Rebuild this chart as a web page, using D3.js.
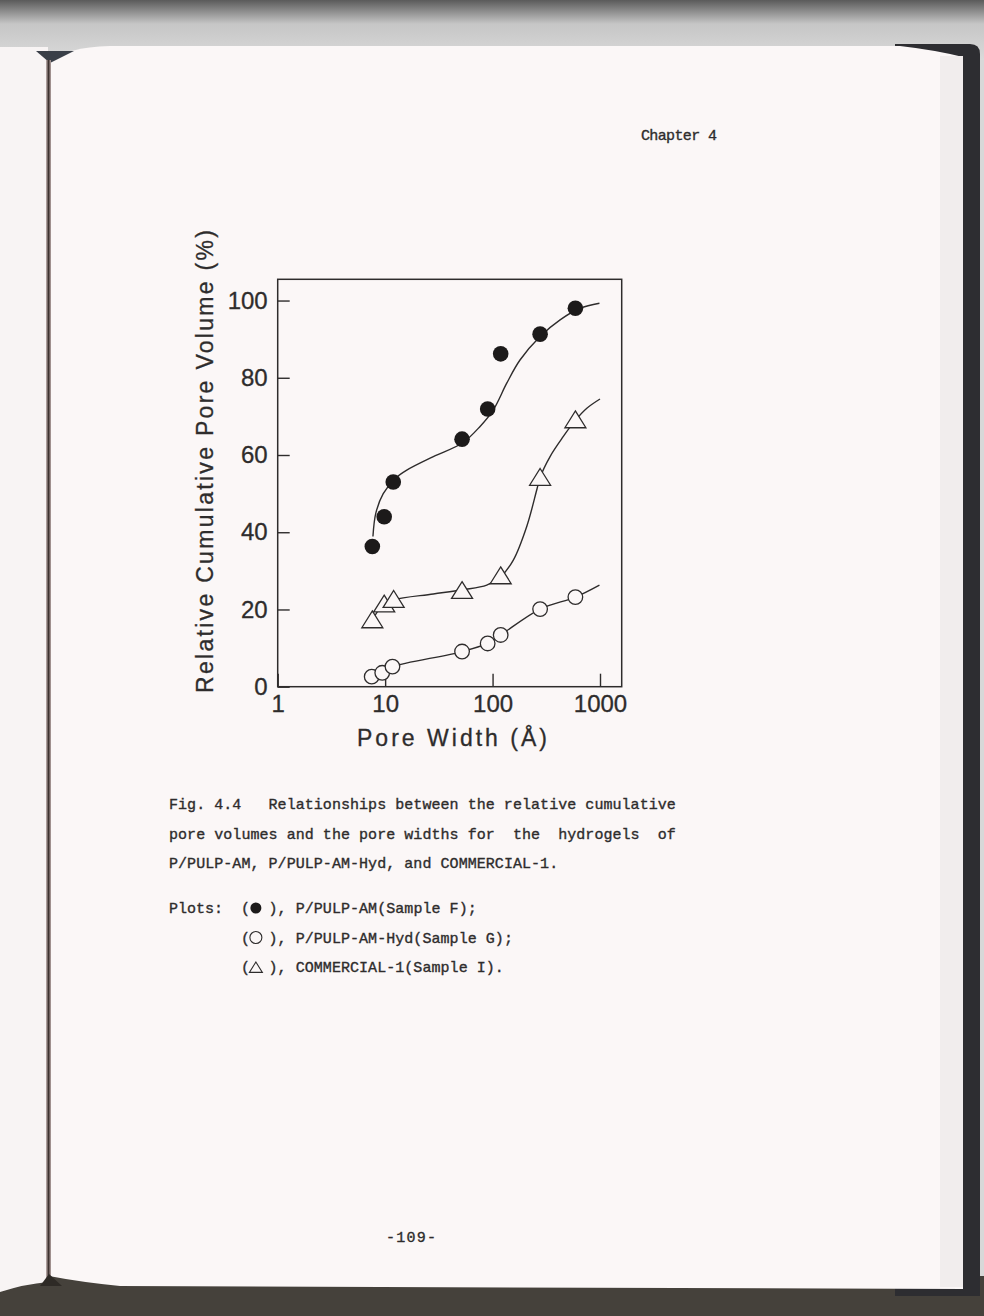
<!DOCTYPE html>
<html>
<head>
<meta charset="utf-8">
<script src="https://cdn.jsdelivr.net/npm/d3@7"></script>
<style>
  body { margin: 0; background: #d8d8d8; }
  svg { display: block; }
</style>
</head>
<body>
<div class="container"></div>
<script>
// initial setup
const w = 984;
const h = 1316;

// values: pore width (Å) / relative cumulative pore volume (%)
const widthsF  = [7.6, 9.8, 11.9, 52, 90, 119, 277, 590];
const volumesF = [36.3, 44.0, 53.0, 64.1, 71.9, 86.2, 91.3, 98.0];
const widthsG  = [7.5, 9.4, 11.7, 52, 90, 119, 277, 590];
const volumesG = [2.6, 3.6, 5.2, 9.1, 11.2, 13.4, 20.1, 23.2];
const widthsI  = [7.6, 9.8, 12.0, 52, 119, 277, 590];
const volumesI = [17.3, 21.4, 22.6, 24.9, 28.7, 54.2, 69.1];

// the hand drawn smooth curves
const curveF = [[7.7, 38.9], [8.2, 45.0], [9.6, 50.0], [12.5, 54.0], [15.9, 56.1], [28.1, 59.6], [52.4, 63.1],
                [76.5, 67.4], [101.7, 71.7], [135.5, 78.6], [180, 84.6], [277, 90.7], [425, 95.0],
                [653, 98.0], [988, 99.3]];
const curveG = [[7.5, 2.6], [9.4, 3.9], [11.7, 5.2], [52.4, 9.1], [89.5, 11.2], [119, 13.4],
                [277, 20.1], [590, 23.2], [988, 26.3]];
const curveI = [[7.6, 17.3], [9.6, 21.2], [12.0, 22.5], [28.1, 24.0], [52.4, 25.1], [88.3, 26.3],
                [119, 28.5], [156, 32.8], [208, 41.5], [258, 51.0], [277, 54.2], [343, 59.6],
                [456, 64.8], [578, 68.7], [754, 72.1], [1000, 74.5]];

const xTicks = [1, 10, 100, 1000];
const yTicks = [0, 20, 40, 60, 80, 100];

const captionLines = [
  'Fig. 4.4   Relationships between the relative cumulative',
  'pore volumes and the pore widths for  the  hydrogels  of',
  'P/PULP-AM, P/PULP-AM-Hyd, and COMMERCIAL-1.'
];
const plotLines = [
  {pre: 'Plots:  (', mark: 'filled', post: '), P/PULP-AM(Sample F);'},
  {pre: '        (', mark: 'open',   post: '), P/PULP-AM-Hyd(Sample G);'},
  {pre: '        (', mark: 'tri',    post: '), COMMERCIAL-1(Sample I).'}
];

const ink = '#2e2c2c';
const paper = '#fbf7f7';

const svg = d3.select('.container')
              .append('svg')
              .attr('width', w)
              .attr('height', h);

// ---- the photographed book around the page ----
const defs = svg.append('defs');
const topGrad = defs.append('linearGradient')
                    .attr('id', 'topGrad')
                    .attr('x1', 0).attr('y1', 0).attr('x2', 0).attr('y2', 1);
topGrad.append('stop').attr('offset', 0).attr('stop-color', '#5a5a5a');
topGrad.append('stop').attr('offset', 0.4).attr('stop-color', '#c6c6c6');
topGrad.append('stop').attr('offset', 1).attr('stop-color', '#dadada');
svg.append('rect').attr('width', w).attr('height', 60).attr('fill', 'url(#topGrad)');

const gutterGrad = defs.append('linearGradient')
                       .attr('id', 'gutterGrad')
                       .attr('x1', 0).attr('y1', 0).attr('x2', 1).attr('y2', 0);
gutterGrad.append('stop').attr('offset', 0).attr('stop-color', '#c8b8b6');
gutterGrad.append('stop').attr('offset', 0.5).attr('stop-color', '#3e3230');
gutterGrad.append('stop').attr('offset', 1).attr('stop-color', '#b8a8a6');

svg.append('rect').attr('y', 1276).attr('width', w).attr('height', 40).attr('fill', '#45413b');
svg.append('path')
   .attr('d', 'M895,44 L970,44 Q980,44 980,54 L980,1296 L895,1296 Z')
   .attr('fill', '#2d2d31');
svg.append('path')
   .attr('d', 'M0,47 L48,47 L48,1282 Q25,1284 0,1292 Z')
   .attr('fill', '#f8f4f4');
svg.append('path')
   .attr('d', 'M49,63 Q66,47 110,46 L900,46 Q935,50 963,57 L963,1289 L120,1286 Q80,1282 49,1276 Z')
   .attr('fill', paper);
svg.append('rect').attr('x', 940).attr('y', 56).attr('width', 23).attr('height', 1231).attr('fill', '#f1eded');
svg.append('path').attr('d', 'M36,51 L74,51 L50,63 Z').attr('fill', '#3a3f48');
svg.append('rect').attr('x', 46).attr('y', 60).attr('width', 5).attr('height', 1218).attr('fill', 'url(#gutterGrad)');
svg.append('path').attr('d', 'M40,1286 L49,1274 L62,1286 Z').attr('fill', '#2e2a26');

// ---- running head and folio ----
const mono = '"Liberation Mono", "DejaVu Sans Mono", monospace';
const monoText = sel => sel.attr('font-family', mono)
                           .attr('font-size', 15)
                           .attr('fill', ink)
                           .attr('stroke', ink)
                           .attr('stroke-width', 0.35)
                           .style('white-space', 'pre');

svg.append('text')
   .attr('x', 641).attr('y', 140)
   .call(monoText)
   .attr('textLength', 76).attr('lengthAdjust', 'spacing')
   .text('Chapter 4');
svg.append('text')
   .attr('x', 386).attr('y', 1242)
   .call(monoText)
   .attr('textLength', 50).attr('lengthAdjust', 'spacing')
   .text('-109-');

// ---- the chart ----
const [margin_top, margin_left] = [279.3, 277.7];
const plotWidth = 344;
const plotHeight = 407.4;

const plot = svg.append('g')
                .attr('transform', `translate(${margin_left}, ${margin_top})`);

const x = d3.scaleLog()
            .domain([1, 1592])
            .range([0, plotWidth]);
const y = d3.scaleLinear()
            .domain([0, 105.5])
            .range([plotHeight, 0]);

const sans = '"Liberation Sans", Arial, sans-serif';

// axis
const xAxis = d3.axisBottom(x)
                .tickValues(xTicks)
                .tickFormat(d3.format('d'))
                .tickSize(-13)
                .tickPadding(8);
const yAxis = d3.axisLeft(y)
                .tickValues(yTicks)
                .tickSize(-12)
                .tickPadding(10);

const xGroup = plot.append('g')
                   .attr('transform', `translate(0, ${plotHeight})`)
                   .call(xAxis);
const yGroup = plot.append('g').call(yAxis);

[xGroup, yGroup].forEach(g => {
  g.select('.domain').remove();
  g.selectAll('line').attr('stroke', ink).attr('stroke-width', 1.4);
  g.selectAll('text')
   .attr('font-family', sans)
   .attr('font-size', 24)
   .attr('fill', ink)
   .attr('stroke', ink)
   .attr('stroke-width', 0.3);
});

plot.append('rect')
    .attr('width', plotWidth)
    .attr('height', plotHeight)
    .attr('fill', 'none')
    .attr('stroke', ink)
    .attr('stroke-width', 1.5);

svg.append('text')
   .attr('transform', 'translate(213, 693) rotate(-90)')
   .attr('font-family', sans)
   .attr('font-size', 23)
   .attr('fill', ink)
   .attr('stroke', ink)
   .attr('stroke-width', 0.3)
   .attr('textLength', 463).attr('lengthAdjust', 'spacing')
   .text('Relative Cumulative Pore Volume (%)');

svg.append('text')
   .attr('x', 357).attr('y', 746)
   .attr('font-family', sans)
   .attr('font-size', 23)
   .attr('fill', ink)
   .attr('stroke', ink)
   .attr('stroke-width', 0.3)
   .attr('textLength', 190).attr('lengthAdjust', 'spacing')
   .text('Pore Width (Å)');

// curves
const line = d3.line()
               .x(d => x(d[0]))
               .y(d => y(d[1]))
               .curve(d3.curveCatmullRom.alpha(0.5));

[curveF, curveG, curveI].forEach(c => {
  plot.append('path')
      .attr('d', line(c))
      .attr('fill', 'none')
      .attr('stroke', ink)
      .attr('stroke-width', 1.4);
});

// markers
const triPath = s => `M0,${-0.85 * s} L${s},${0.75 * s} L${-s},${0.75 * s} Z`;

plot.selectAll('circle.f')
    .data(d3.zip(widthsF, volumesF))
    .enter()
    .append('circle')
    .attr('class', 'f')
    .attr('cx', d => x(d[0]))
    .attr('cy', d => y(d[1]))
    .attr('r', 7.8)
    .attr('fill', '#1c1a1a');

plot.selectAll('circle.g')
    .data(d3.zip(widthsG, volumesG))
    .enter()
    .append('circle')
    .attr('class', 'g')
    .attr('cx', d => x(d[0]))
    .attr('cy', d => y(d[1]))
    .attr('r', 7.3)
    .attr('fill', paper)
    .attr('stroke', ink)
    .attr('stroke-width', 1.3);

plot.selectAll('path.i')
    .data(d3.zip(widthsI, volumesI))
    .enter()
    .append('path')
    .attr('class', 'i')
    .attr('transform', d => `translate(${x(d[0])}, ${y(d[1])})`)
    .attr('d', triPath(10.5))
    .attr('fill', paper)
    .attr('stroke', ink)
    .attr('stroke-width', 1.3);

// ---- caption ----
const col = 9.05;
const capX = 169;

captionLines.forEach((t, i) => {
  svg.append('text')
     .attr('x', capX).attr('y', 809 + i * 29.5)
     .call(monoText)
     .attr('textLength', t.length * col).attr('lengthAdjust', 'spacing')
     .text(t);
});

plotLines.forEach((p, i) => {
  const by = 913 + i * 29.5;
  svg.append('text')
     .attr('x', capX).attr('y', by)
     .call(monoText)
     .text(p.pre);
  svg.append('text')
     .attr('x', capX + 11 * col).attr('y', by)
     .call(monoText)
     .attr('textLength', p.post.length * col).attr('lengthAdjust', 'spacing')
     .text(p.post);
  const cx = capX + 9.6 * col;
  const cy = by - 5;
  if (p.mark === 'filled') {
    svg.append('circle').attr('cx', cx).attr('cy', cy).attr('r', 5.5).attr('fill', '#1c1a1a');
  } else if (p.mark === 'open') {
    svg.append('circle').attr('cx', cx).attr('cy', cy).attr('r', 6)
       .attr('fill', 'none').attr('stroke', ink).attr('stroke-width', 1.1);
  } else {
    svg.append('path').attr('transform', `translate(${cx}, ${cy + 0.5})`)
       .attr('d', triPath(6.5))
       .attr('fill', 'none').attr('stroke', ink).attr('stroke-width', 1.1);
  }
});
</script>
</body>
</html>
